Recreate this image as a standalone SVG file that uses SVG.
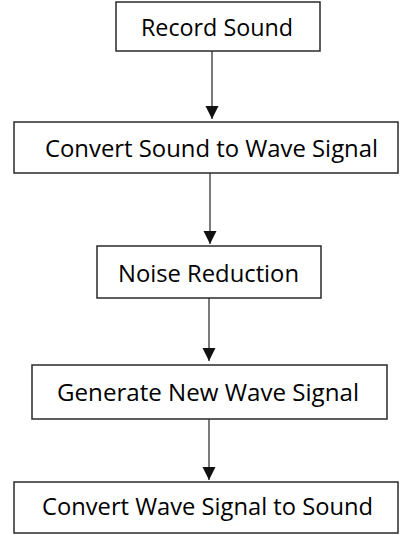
<svg xmlns="http://www.w3.org/2000/svg" width="400" height="535" viewBox="0 0 400 535">
<style>
.box{fill:#fff;stroke:#2a2a2a;stroke-width:1.5}
.lbl{font-family:"Open Sans","Liberation Sans",sans-serif;font-size:23px;fill:#000;text-anchor:middle}
.edge{stroke:#222;stroke-width:1.2;fill:none;marker-end:url(#ah)}
</style>
<defs>
<marker id="ah" markerUnits="userSpaceOnUse" markerWidth="14" markerHeight="14" refX="13" refY="6.5" orient="auto">
<path d="M0,0 L13,6.5 L0,13 Z" fill="#111"/>
</marker>
</defs>
<rect width="400" height="535" fill="#fff"/>
<g id="connectors">
<line class="edge" x1="212" y1="51" x2="212" y2="119"/>
<line class="edge" x1="210" y1="173" x2="210" y2="244"/>
<line class="edge" x1="209" y1="298" x2="209" y2="361"/>
<line class="edge" x1="209" y1="419" x2="209" y2="480"/>
</g>
<g id="n1"><rect class="box" x="116" y="2" width="204" height="49"/><text class="lbl" x="217" y="36" textLength="152" lengthAdjust="spacingAndGlyphs">Record Sound</text></g>
<g id="n2"><rect class="box" x="14" y="122" width="384" height="51"/><text class="lbl" x="211.5" y="157" textLength="333" lengthAdjust="spacingAndGlyphs">Convert Sound to Wave Signal</text></g>
<g id="n3"><rect class="box" x="97" y="246" width="224" height="52"/><text class="lbl" x="208.5" y="282" textLength="181" lengthAdjust="spacingAndGlyphs">Noise Reduction</text></g>
<g id="n4"><rect class="box" x="32" y="365" width="355" height="54"/><text class="lbl" x="208" y="401" textLength="302" lengthAdjust="spacingAndGlyphs">Generate New Wave Signal</text></g>
<g id="n5"><rect class="box" x="14" y="482" width="384" height="51"/><text class="lbl" x="207.5" y="515" textLength="331" lengthAdjust="spacingAndGlyphs">Convert Wave Signal to Sound</text></g>
</svg>
